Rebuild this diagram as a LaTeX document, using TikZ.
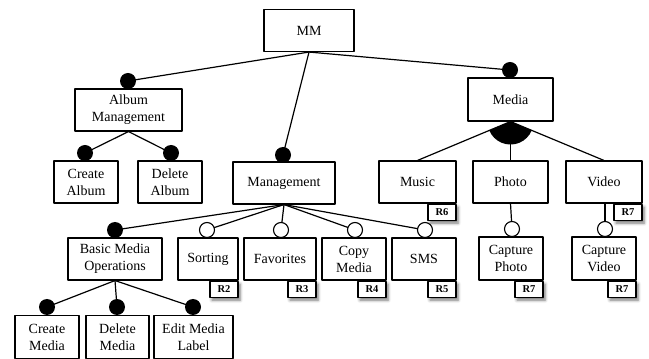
\documentclass[tikz,border=0pt]{standalone}
\usepackage{fontspec}
\setmainfont{Liberation Serif}
\usetikzlibrary{shadows.blur}
\begin{document}
\begin{tikzpicture}[line join=bevel,
  feature/.style={draw,line width=1.1bp,minimum height=42bp,inner sep=2bp,align=center,font=\fontsize{14bp}{17bp}\selectfont},
  reqtag/.style={draw,fill=white,line width=1.1bp,minimum width=28bp,minimum height=16bp,inner sep=1bp,anchor=north east,
    font=\fontsize{10.5bp}{12bp}\selectfont\bfseries,
    blur shadow={shadow xshift=2bp,shadow yshift=-3bp,shadow blur radius=3bp,shadow opacity=55}},
  mand/.style={circle,fill=black,inner sep=0pt,minimum size=16bp},
  opt/.style={circle,draw,fill=white,line width=1.1bp,inner sep=0pt,minimum size=15bp},
  link/.style={line width=1.2bp}]
\useasboundingbox (0,0) rectangle (649bp,359bp);
%%
\node (node_mm) at (309bp,328.5bp) [feature,minimum width=90bp] {MM};
  \node (node_album) at (128.5bp,249bp) [feature,minimum width=107bp] {Album\\Management};
  \node (node_media) at (510.5bp,259.5bp) [feature,minimum width=85bp,minimum height=43bp] {Media};
  \node (node_createalbum) at (86bp,177bp) [feature,minimum width=64bp] {Create\\Album};
  \node (node_deletealbum) at (170bp,177bp) [feature,minimum width=64bp] {Delete\\Album};
  \node (node_manage) at (284bp,176bp) [feature,minimum width=102bp] {Management};
  \node (node_music) at (417.5bp,177bp) [feature,minimum width=77bp] {Music};
  \node (node_photo) at (510.5bp,177bp) [feature,minimum width=75bp] {Photo};
  \node (node_video) at (604bp,177bp) [feature,minimum width=76bp] {Video};
  \node (node_basic) at (115bp,100bp) [feature,minimum width=94bp] {Basic Media\\Operations};
  \node (node_sorting) at (208bp,100bp) [feature,minimum width=60bp] {Sorting};
  \node (node_favorites) at (280bp,100bp) [feature,minimum width=72bp] {Favorites};
  \node (node_copy) at (354bp,100bp) [feature,minimum width=64bp] {Copy\\Media};
  \node (node_sms) at (424bp,100bp) [feature,minimum width=64bp] {SMS};
  \node (node_capphoto) at (511bp,100.5bp) [feature,minimum width=64bp,minimum height=43bp] {Capture\\Photo};
  \node (node_capvideo) at (604bp,100.5bp) [feature,minimum width=64bp,minimum height=43bp] {Capture\\Video};
  \node (node_createmedia) at (47bp,22bp) [feature,minimum width=64bp,minimum height=43bp] {Create\\Media};
  \node (node_deletemedia) at (117.5bp,22bp) [feature,minimum width=63bp,minimum height=43bp] {Delete\\Media};
  \node (node_editlabel) at (193.5bp,22bp) [feature,minimum width=79bp,minimum height=43bp] {Edit Media\\Label};
%% requirement tags
  \node (tag_music) at (node_music.south east) [reqtag] {R6};
  \node (tag_video) at (node_video.south east) [reqtag] {R7};
  \node (tag_sorting) at (node_sorting.south east) [reqtag] {R2};
  \node (tag_favorites) at (node_favorites.south east) [reqtag] {R3};
  \node (tag_copy) at (node_copy.south east) [reqtag] {R4};
  \node (tag_sms) at (node_sms.south east) [reqtag] {R5};
  \node (tag_capphoto) at (node_capphoto.south east) [reqtag] {R7};
  \node (tag_capvideo) at (node_capvideo.south east) [reqtag] {R7};
%% mandatory / optional marks
  \coordinate (dot_album) at (128bp,278bp);
  \coordinate (dot_media) at (510bp,289bp);
  \coordinate (dot_manage) at (283bp,204bp);
  \coordinate (dot_createalbum) at (85bp,206bp);
  \coordinate (dot_deletealbum) at (171bp,206bp);
  \coordinate (dot_basic) at (115bp,129bp);
  \coordinate (dot_sorting) at (207bp,129bp);
  \coordinate (dot_favorites) at (281bp,129bp);
  \coordinate (dot_copy) at (355bp,129bp);
  \coordinate (dot_sms) at (425bp,129bp);
  \coordinate (dot_capphoto) at (512bp,130bp);
  \coordinate (dot_capvideo) at (605bp,130bp);
  \coordinate (dot_createmedia) at (47bp,52bp);
  \coordinate (dot_deletemedia) at (117bp,52bp);
  \coordinate (dot_editlabel) at (193bp,52bp);
%% connectors
  \draw [link] (node_mm.south) -- (dot_album);
  \draw [link] (node_mm.south) -- (dot_manage);
  \draw [link] (node_mm.south) -- (dot_media);
  \draw [link] (node_album.south) -- (dot_createalbum);
  \draw [link] (node_album.south) -- (dot_deletealbum);
  \foreach \n in {basic,sorting,favorites,copy,sms}
    \draw [link] (node_manage.south) -- (dot_\n);
  \foreach \n in {createmedia,deletemedia,editlabel}
    \draw [link] (node_basic.south) -- (dot_\n);
  \draw [link] (node_photo.south) -- (dot_capphoto);
  \draw [link] (node_video.south -| dot_capvideo) -- (dot_capvideo);
  \foreach \n in {music,photo,video}
    \draw [link] (node_media.south) -- (node_\n.north);
%% or-group arc
  \begin{scope}
    \clip (node_media.south) -- (node_music.north) -- (node_video.north) -- cycle;
    \fill (node_media.south) circle (23bp);
  \end{scope}
%%
  \foreach \n in {album,media,manage,createalbum,deletealbum,basic,createmedia,deletemedia,editlabel}
    \node (mark_\n) at (dot_\n) [mand] {};
  \foreach \n in {sorting,favorites,copy,sms,capphoto,capvideo}
    \node (mark_\n) at (dot_\n) [opt] {};
%
\end{tikzpicture}
\end{document}
